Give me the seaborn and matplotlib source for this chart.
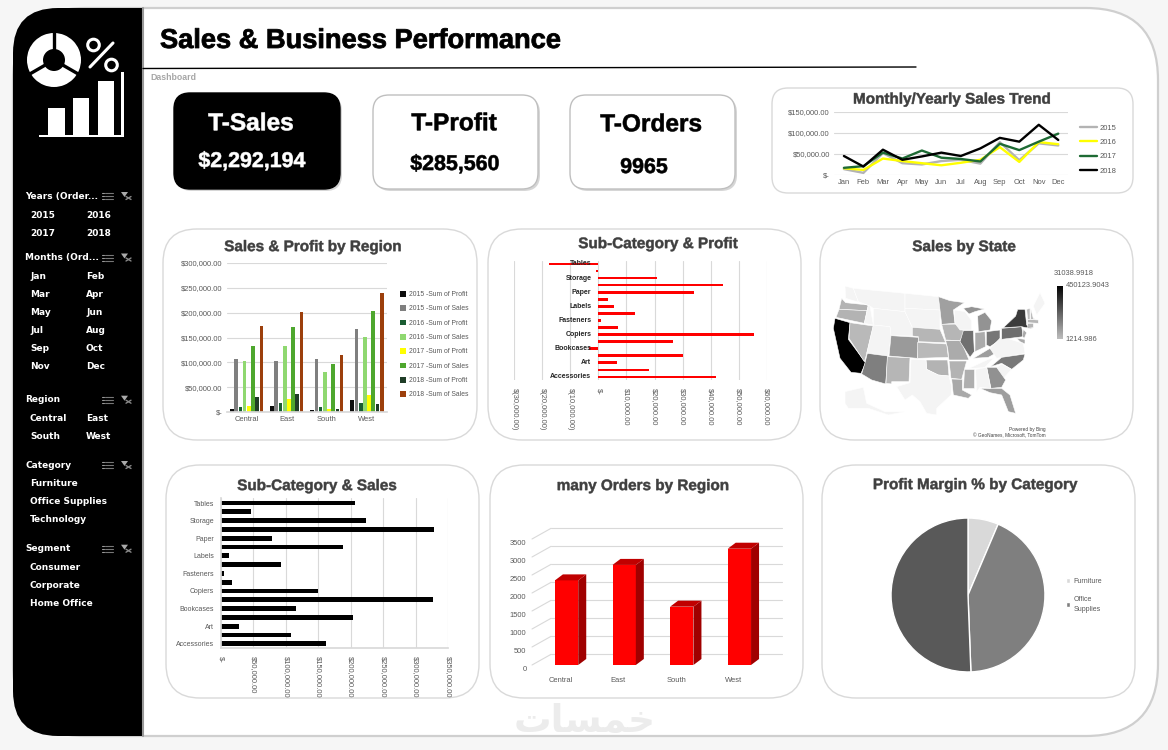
import pandas as pd
import numpy as np
import matplotlib
matplotlib.use('Agg')
import matplotlib.pyplot as plt
import matplotlib.patheffects as pe
from matplotlib.patches import FancyBboxPatch, Rectangle, Wedge, Circle, Polygon
from matplotlib.colors import LinearSegmentedColormap, Normalize
from matplotlib.lines import Line2D
from matplotlib.transforms import ScaledTranslation
import seaborn as sns

W, H = 1168, 750

# data
months = ['Jan', 'Feb', 'Mar', 'Apr', 'May', 'Jun', 'Jul', 'Aug', 'Sep', 'Oct', 'Nov', 'Dec']
trend_2015 = [14000, 5000, 52000, 28000, 25000, 33000, 36000, 27000, 78000, 35000, 75000, 70000]
trend_2016 = [16000, 12000, 39000, 33000, 28000, 23000, 29000, 36000, 66000, 31000, 78000, 73000]
trend_2017 = [17000, 21000, 53000, 39000, 58000, 41000, 38000, 32000, 74000, 59000, 79000, 98000]
trend_2018 = [45000, 20000, 60000, 36000, 44000, 53000, 45000, 63000, 88000, 79000, 119000, 83000]

regions = ['Central', 'East', 'South', 'West']
region_series = ['2015 -Sum of Profit', '2015 -Sum of Sales', '2016 -Sum of Profit', '2016 -Sum of Sales',
                 '2017 -Sum of Profit', '2017 -Sum of Sales', '2018 -Sum of Profit', '2018 -Sum of Sales']
profit_2015 = [7000, 13000, 5000, 25000]
sales_2015 = [107000, 103000, 107000, 167000]
profit_2016 = [11000, 19000, 11000, 19000]
sales_2016 = [103000, 133000, 81000, 151000]
profit_2017 = [13000, 27000, 7000, 35000]
sales_2017 = [133000, 171000, 97000, 204000]
profit_2018 = [31000, 37000, 7000, 17000]
sales_2018 = [173000, 201000, 115000, 240000]

sub_categories = ['Tables', 'Supplies', 'Storage', 'Phones', 'Paper', 'Machines', 'Labels', 'Furnishings',
                  'Fasteners', 'Envelopes', 'Copiers', 'Chairs', 'Bookcases', 'Binders', 'Art', 'Appliances',
                  'Accessories']
sub_profit = [-17500, -1000, 21000, 44500, 34000, 3400, 5500, 13000, 900, 6900, 55600, 26600, -3500, 30000, 6500,
              18000, 41900]
sub_sales = [206000, 47000, 223000, 328000, 79000, 188000, 13000, 92000, 4000, 17000, 149000, 327000, 115000,
             203000, 28000, 108000, 162000]

orders_region = [2350, 2780, 1620, 3230]

pie_labels = ['Furniture', 'Office\nSupplies', 'Technology']
pie_values = [6.4, 43.0, 50.6]

state_names = ['CA', 'NY', 'PA', 'IL', 'OH', 'AZ', 'NC', 'MI', 'GA', 'CO', 'FL', 'MN', 'KY', 'MO', 'LA', 'IN',
               'NJ', 'MD', 'MS', 'WA', 'OR', 'OK', 'AR', 'NM', 'NE', 'IA', 'MA', 'CT', 'NV', 'KS', 'VT', 'NH']
state_sales = [450123, 310000, 190000, 185000, 170000, 150000, 165000, 100000, 105000, 85000, 75000, 70000, 75000,
               45000, 50000, 45000, 50000, 50000, 35000, 25000, 25000, 25000, 25000, 20000, 20000, 20000, 20000,
               20000, 10000, 10000, 1214, 1214]

# rough state outlines, in map units of the map box
state_shapes = {
    'WA': [(50, 55), (62, 68), (130, 75), (126, 92), (42, 88)],
    'OR': [(42, 88), (126, 92), (118, 130), (33, 112)],
    'CA': [(30, 115), (75, 128), (70, 178), (122, 248), (108, 280), (78, 277), (45, 235), (35, 190), (25, 145)],
    'NV': [(75, 128), (145, 138), (125, 222), (118, 245), (72, 175)],
    'ID': [(60, 18), (85, 25), (100, 65), (135, 78), (145, 135), (118, 130), (130, 75), (62, 55)],
    'MT': [(85, 25), (240, 40), (240, 95), (145, 85), (135, 78), (100, 65)],
    'WY': [(145, 85), (240, 95), (262, 142), (262, 168), (198, 167), (195, 140), (145, 135)],
    'UT': [(145, 135), (195, 140), (198, 167), (190, 228), (125, 220)],
    'AZ': [(127, 220), (188, 228), (182, 312), (140, 300), (110, 282), (120, 248)],
    'NM': [(187, 230), (255, 233), (252, 305), (200, 305), (200, 312), (183, 310)],
    'CO': [(198, 167), (280, 172), (278, 235), (192, 228)],
    'ND': [(240, 40), (340, 50), (345, 90), (240, 85)],
    'SD': [(240, 85), (345, 90), (345, 148), (262, 142), (240, 95)],
    'NE': [(262, 142), (345, 148), (362, 188), (280, 185), (280, 170), (262, 168)],
    'KS': [(278, 187), (365, 192), (370, 232), (278, 235)],
    'OK': [(303, 240), (368, 240), (372, 288), (340, 285), (305, 268)],
    'TX': [(258, 238), (303, 240), (305, 268), (340, 285), (372, 288), (380, 320), (378, 345), (335, 385), (335, 405),
           (305, 400), (285, 365), (262, 345), (240, 360), (215, 320), (255, 308)],
    'MN': [(340, 50), (375, 62), (418, 68), (385, 90), (390, 130), (350, 133), (345, 90)],
    'IA': [(350, 133), (405, 132), (418, 160), (405, 182), (362, 180)],
    'MO': [(362, 182), (408, 182), (432, 240), (372, 240), (368, 205)],
    'AR': [(372, 243), (425, 243), (410, 298), (378, 295)],
    'LA': [(380, 297), (412, 298), (412, 330), (440, 345), (430, 355), (385, 345)],
    'MS': [(417, 268), (448, 268), (448, 325), (415, 325)],
    'WI': [(388, 90), (420, 95), (440, 122), (440, 150), (405, 150), (390, 130)],
    'IL': [(415, 152), (445, 152), (448, 215), (435, 232), (405, 185)],
    'IN': [(450, 158), (480, 155), (482, 200), (450, 215)],
    'MI': [(458, 108), (480, 97), (500, 122), (495, 150), (460, 155)],
    'MI2': [(415, 85), (440, 80), (478, 87), (450, 95), (432, 102)],
    'OH': [(484, 155), (525, 150), (525, 180), (495, 200), (484, 195)],
    'KY': [(445, 235), (495, 205), (515, 218), (490, 232)],
    'TN': [(432, 265), (490, 238), (505, 235), (480, 262), (450, 265)],
    'VA': [(495, 205), (530, 170), (595, 190), (600, 220), (515, 235)],
    'NC': [(497, 260), (530, 232), (600, 222), (595, 240), (560, 268), (530, 250)],
    'SC': [(530, 252), (560, 268), (535, 295), (515, 262)],
    'GA': [(485, 262), (515, 262), (542, 300), (530, 322), (498, 325)],
    'FL': [(465, 325), (530, 325), (555, 345), (572, 400), (550, 395), (530, 345), (495, 338)],
    'AL': [(452, 268), (485, 262), (497, 325), (465, 322), (455, 335)],
    'PA': [(530, 145), (590, 140), (595, 170), (530, 178)],
    'NY': [(535, 143), (572, 108), (578, 88), (600, 88), (605, 135), (622, 146), (598, 142), (590, 140)],
    'NJ': [(595, 148), (605, 158), (598, 175), (592, 170)],
    'MD': [(575, 175), (600, 178), (600, 192), (585, 185)],
    'MA': [(608, 118), (640, 120), (640, 130), (608, 128)],
    'CT': [(608, 130), (625, 130), (625, 143), (608, 145)],
    'VT': [(605, 88), (615, 85), (615, 118), (608, 118)],
    'NH': [(617, 85), (625, 115), (632, 118), (617, 118)],
    'ME': [(625, 78), (645, 38), (660, 70), (635, 105)],
    'AK': [(60, 335), (115, 322), (125, 370), (180, 395), (240, 395), (190, 405), (130, 385), (70, 385), (60, 370)],
}

slicers = [('Years (Order...', 196, [('2015', '2016'), ('2017', '2018')]),
           ('Months (Ord...', 257.5, [('Jan', 'Feb'), ('Mar', 'Apr'), ('May', 'Jun'), ('Jul', 'Aug'), ('Sep', 'Oct'),
                                      ('Nov', 'Dec')]),
           ('Region', 399.7, [('Central', 'East'), ('South', 'West')]),
           ('Category', 465, [('Furniture', ''), ('Office Supplies', ''), ('Technology', '')]),
           ('Segment', 548.7, [('Consumer', ''), ('Corporate', ''), ('Home Office', '')])]

sns.set_theme(style='white')
plt.rcParams['font.family'] = ['Liberation Sans', 'DejaVu Sans']

TICK = '#595959'
GRID = '#d9d9d9'
TITLE = '#3f3f3f'
TS = 5.4

fig = plt.figure(figsize=(W / 100, H / 100), dpi=100, facecolor='#f6f6f6')


def caja(x0, y0, x1, y1):
    ax = fig.add_axes([x0 / W, 1 - y1 / H, (x1 - x0) / W, (y1 - y0) / H])
    ax.patch.set_visible(False)
    return ax


def tarjeta(x0, y0, x1, y1, r, fc='white', ec='#d9d9d9', sombra=False):
    if sombra:
        fondo.add_patch(FancyBboxPatch((x0 + 2, y0 + 2), x1 - x0, y1 - y0, boxstyle=f'round,pad=0,rounding_size={r}',
                                       fc='#bbbbbb', ec='none', alpha=0.6))
    fondo.add_patch(FancyBboxPatch((x0, y0), x1 - x0, y1 - y0, boxstyle=f'round,pad=0,rounding_size={r}',
                                   fc=fc, ec=ec, lw=1))


def grueso(x, y, txt, size, color, stroke=0.4, **kw):
    # va='center' sits a bit high for the big text
    t = fondo.text(x, y + size * 0.1, txt, fontsize=size, fontweight='bold', color=color, va='center', **kw)
    t.set_path_effects([pe.Stroke(linewidth=stroke, foreground=color)])
    return t


def titulo(x, y, txt):
    grueso(x, y, txt, 11, TITLE, stroke=0.35, ha='center')


def leyenda(ax, handles, labels, x, y, size=5, **kw):
    leg = ax.legend(handles, labels, loc='upper left', bbox_to_anchor=(x / W, 1 - y / H), bbox_transform=fig.transFigure,
                    frameon=False, fontsize=size, borderpad=0, borderaxespad=0, **kw)
    for t in leg.get_texts():
        t.set_color(TICK)
    return leg


# background, sheet and sidebar
fondo = fig.add_axes([0, 0, 1, 1])
fondo.set_xlim(0, W)
fondo.set_ylim(H, 0)
fondo.axis('off')
fondo.add_patch(FancyBboxPatch((13, 8), 1145, 728, boxstyle='round,pad=0,rounding_size=72', fc='white', ec='#cfcfcf', lw=1.6))
barra = FancyBboxPatch((13, 8), 300, 728, boxstyle='round,pad=0,rounding_size=45', fc='black', ec='none')
fondo.add_patch(barra)
barra.set_clip_path(Rectangle((0, 0), 142, H, transform=fondo.transData))
fondo.plot([143, 143], [8, 736], color='#999999', lw=1.5)

# sidebar icon
fondo.add_patch(Wedge((54, 60), 27, 0, 360, width=16, fc='white', ec='none'))
for ang in (270, 30, 150):
    a = np.deg2rad(ang)
    fondo.plot([54 + 10 * np.cos(a), 54 + 28 * np.cos(a)], [60 + 10 * np.sin(a), 60 + 28 * np.sin(a)], color='black', lw=2.4)
fondo.add_patch(Circle((93.5, 45), 5.8, fc='none', ec='white', lw=2.2))
fondo.add_patch(Circle((111.5, 65), 5.8, fc='none', ec='white', lw=2.2))
fondo.plot([113, 90], [43, 67], color='white', lw=2.2)
for x0, x1, y0 in ((48, 65, 108), (73, 89, 98), (98, 114, 81)):
    fondo.add_patch(Rectangle((x0, y0), x1 - x0, 135 - y0, fc='white', ec='none'))
fondo.add_patch(Rectangle((39, 135), 85, 2.2, fc='white', ec='none'))
fondo.add_patch(Rectangle((121, 72), 2.5, 65, fc='white', ec='none'))

# slicers
for nombre, y, filas in slicers:
    fondo.text(25, y, nombre, color='white', fontsize=6.5, fontweight='bold', family='DejaVu Sans', va='center')
    for k in range(3):
        fondo.plot([105, 112.5], [y - 3 + 3 * k] * 2, color='#777777', lw=0.8)
        fondo.plot([101.5, 103.5], [y - 3 + 3 * k] * 2, color='#999999', lw=0.8)
    fondo.add_patch(Polygon([(121, y - 4), (128, y - 4), (124.5, y + 1)], fc='#aaaaaa', ec='none'))
    fondo.plot([126, 131], [y + 0.5, y + 3.5], color='#888888', lw=1)
    fondo.plot([126, 131], [y + 3.5, y + 0.5], color='#888888', lw=1)
    yy = y + 19
    for a, b in filas:
        fondo.text(30, yy, a, color='white', fontsize=6.5, fontweight='bold', family='DejaVu Sans', va='center')
        fondo.text(86, yy, b, color='white', fontsize=6.5, fontweight='bold', family='DejaVu Sans', va='center')
        yy += 18

# header
grueso(160, 39, 'Sales & Business Performance', 19.6, 'black', stroke=0.6)
fondo.plot([143, 916], [68.5, 67], color='black', lw=1)
fondo.text(150, 77, 'Dashboard', fontsize=6.3, fontweight='bold', color='#a6a6a6', va='center')

# KPI cards
tarjeta(174, 93, 340, 189, 16, fc='black', ec='black', sombra=True)
tarjeta(373, 95, 538, 189, 16, ec='#bfbfbf', sombra=True)
tarjeta(570, 95, 735, 189, 16, ec='#bfbfbf', sombra=True)
grueso(251, 122, 'T-Sales', 17.6, 'white', ha='center')
grueso(252, 160, '$2,292,194', 15.4, 'white', ha='center')
grueso(454, 122, 'T-Profit', 17.6, 'black', ha='center')
grueso(455, 163, '$285,560', 15.4, 'black', ha='center')
grueso(651, 123, 'T-Orders', 17.6, 'black', ha='center')
grueso(644, 166, '9965', 15.4, 'black', ha='center')

# chart cards
tarjeta(772, 88, 1133, 193, 16)
tarjeta(163, 229, 477, 440, 34)
tarjeta(488, 229, 801, 440, 34)
tarjeta(820, 229, 1133, 440, 34)
tarjeta(166, 465, 479, 698, 34)
tarjeta(490, 465, 803, 698, 34)
tarjeta(822, 465, 1135, 698, 34)
titulo(952, 98.5, 'Monthly/Yearly Sales Trend')
titulo(313, 246, 'Sales & Profit by Region')
titulo(658, 243, 'Sub-Category & Profit')
titulo(964, 246, 'Sales by State')
titulo(317, 485, 'Sub-Category & Sales')
titulo(643, 485, 'many Orders by Region')
titulo(975, 484, 'Profit Margin % by Category')

# watermark
fondo.text(585, 722, '\uFE95\uFE8E\uFEB4\uFEE4\uFEA7', fontsize=27, fontweight='bold', family='DejaVu Sans',
           color='#ececec', ha='center', va='center')

# monthly trend
df_trend = pd.DataFrame({'month': months * 4,
                         'year': sum([[y] * 12 for y in ['2015', '2016', '2017', '2018']], []),
                         'sales': trend_2015 + trend_2016 + trend_2017 + trend_2018})
ax = caja(834, 111.7, 1068, 175)
colores_trend = ['#b3b3b3', '#ffff00', '#1e6b34', '#000000']
sns.lineplot(data=df_trend, x='month', y='sales', hue='year', palette=colores_trend, sort=False, lw=1.7, ax=ax, legend=False)
ax.set_xlim(-0.51, 11.5)
ax.set_ylim(0, 150000)
ax.set_yticks([0, 50000, 100000, 150000], ['$-', '$50,000.00', '$100,000.00', '$150,000.00'])
ax.tick_params(labelsize=TS, labelcolor=TICK, pad=3, length=0)
ax.grid(axis='y', color=GRID, lw=0.8)
ax.set_axisbelow(True)
ax.set(xlabel='', ylabel='')
sns.despine(ax=ax, left=True, bottom=True)
lineas = [Line2D([], [], color=c, lw=1.7) for c in colores_trend]
leyenda(ax, lineas, ['2015', '2016', '2017', '2018'], 1080, 124.5, size=5.5, labelspacing=0.9, handlelength=2.2, handletextpad=0.3)

# sales and profit by region
df_region = pd.DataFrame({'region': regions * 8,
                          'serie': sum([[s] * 4 for s in region_series], []),
                          'valor': profit_2015 + sales_2015 + profit_2016 + sales_2016 + profit_2017 + sales_2017
                          + profit_2018 + sales_2018})
ax = caja(226.7, 263, 387, 412)
colores_region = ['#0d0d0d', '#7f7f7f', '#1a5c32', '#8fd870', '#ffff00', '#4ea72e', '#1f3d27', '#9c3f0c']
sns.barplot(data=df_region, x='region', y='valor', hue='serie', hue_order=region_series, palette=colores_region,
            width=0.84, gap=0.12, saturation=1, linewidth=0, ax=ax)
ax.set_xlim(-0.5, 3.5)
ax.set_ylim(0, 300000)
ax.set_yticks(np.arange(0, 300001, 50000), ['$-', '$50,000.00', '$100,000.00', '$150,000.00', '$200,000.00',
                                           '$250,000.00', '$300,000.00'])
ax.tick_params(labelsize=TS, labelcolor=TICK, pad=3, length=0)
ax.grid(axis='y', color=GRID, lw=0.8)
ax.set_axisbelow(True)
ax.set(xlabel='', ylabel='')
sns.despine(ax=ax, left=True)
ax.spines['bottom'].set_color(GRID)
h, l = ax.get_legend_handles_labels()
leyenda(ax, h, l, 400, 291, size=4.9, labelspacing=1.05, handlelength=0.9, handleheight=0.9, handletextpad=0.35)

# sub-category profit
ax = caja(514.3, 261, 766.7, 380)
df_sub = pd.DataFrame({'sub': sub_categories, 'profit': sub_profit, 'sales': sub_sales})
sns.barplot(data=df_sub, y='sub', x='profit', order=sub_categories, color='#ff0000', width=0.38, saturation=1, linewidth=0, ax=ax)
ax.set_xlim(-30000, 60000)
ax.set_ylim(16.43, -0.42)
ax.set_xticks(np.arange(-30000, 60001, 10000), ['$(30,000.00)', '$(20,000.00)', '$(10,000.00)', '$-', '$10,000.00',
                                               '$20,000.00', '$30,000.00', '$40,000.00', '$50,000.00', '$60,000.00'])
ax.set_yticks([])
ax.tick_params(axis='x', labelsize=TS, labelcolor=TICK, labelrotation=270, pad=6, length=0)
ax.grid(axis='x', color=GRID, lw=0.8)
ax.set_axisbelow(True)
ax.set(xlabel='', ylabel='')
sns.despine(ax=ax, left=True, bottom=True)
for i in range(0, len(sub_categories), 2):
    ax.text(-2500, i, sub_categories[i], ha='right', va='center', fontsize=5, fontweight='bold', color='#262626')

# sub-category sales
ax = caja(221, 498, 448, 648)
sns.barplot(data=df_sub, y='sub', x='sales', order=sub_categories, color='black', width=0.56, saturation=1, linewidth=0, ax=ax)
ax.set_xlim(0, 350000)
ax.set_ylim(16.48, -0.57)
ax.set_xticks(np.arange(0, 350001, 50000), ['$-', '$50,000.00', '$100,000.00', '$150,000.00', '$200,000.00',
                                           '$250,000.00', '$300,000.00', '$350,000.00'])
ax.set_yticks(range(0, len(sub_categories), 2), sub_categories[::2])
ax.tick_params(axis='x', labelsize=TS, labelcolor=TICK, labelrotation=270, pad=6, length=0)
ax.tick_params(axis='y', labelsize=5, labelcolor=TICK, pad=5, length=0)
ax.grid(axis='x', color=GRID, lw=0.8)
ax.set_axisbelow(True)
ax.set(xlabel='', ylabel='')
sns.despine(ax=ax)
ax.spines['left'].set_color(GRID)
ax.spines['bottom'].set_color(GRID)

# orders by region, faked 3D on top of a plain bar plot
ax = caja(532, 539, 782, 665)
sns.barplot(x=regions, y=orders_region, color='#ff0000', width=0.405, saturation=1, linewidth=0, ax=ax, zorder=3)
ax.set_xlim(-0.6, 3.74)
ax.set_ylim(0, 3500)
ticks_orden = np.arange(0, 3501, 500)
ax.set_yticks(ticks_orden)
ax.set_xticks(np.arange(4) - 0.1, regions)
ax.tick_params(labelsize=TS, labelcolor=TICK, length=0)
ax.tick_params(axis='y', pad=4)
ax.tick_params(axis='x', pad=9)
for lab in ax.get_yticklabels():
    lab.set_transform(lab.get_transform() + ScaledTranslation(0, -3.5 / 100, fig.dpi_scale_trans))
prof_x, prof_y = 0.33, 296
for t in ticks_orden:
    ax.plot([-0.6, -0.6 + prof_x], [t, t + prof_y], color=GRID, lw=0.8, clip_on=False, zorder=1)
    ax.plot([-0.6 + prof_x, 3.74], [t + prof_y, t + prof_y], color=GRID, lw=0.8, clip_on=False, zorder=1)
dx, dy = 0.139, 167
for b in list(ax.patches):
    x0, x1, y1 = b.get_x(), b.get_x() + b.get_width(), b.get_height()
    ax.add_patch(Polygon([(x1, 0), (x1 + dx, dy), (x1 + dx, y1 + dy), (x1, y1)], fc='#a00000', ec='none', zorder=3, clip_on=False))
    ax.add_patch(Polygon([(x0, y1), (x1, y1), (x1 + dx, y1 + dy), (x0 + dx, y1 + dy)], fc='#c00000', ec='none', zorder=3, clip_on=False))
sns.despine(ax=ax, left=True, bottom=True)

# sales by state
ax = caja(825, 280, 1065, 430)
ax.set_xlim(0, 720)
ax.set_ylim(450, 0)
ax.axis('off')
escala = LinearSegmentedColormap.from_list('gris', ['#bdbdbd', '#000000'])
norma = Normalize(vmin=min(state_sales), vmax=max(state_sales))
ventas = dict(zip(state_names, state_sales))
for st, forma in state_shapes.items():
    clave = st.replace('2', '')
    color = escala(norma(ventas[clave])) if clave in ventas else '#f4f4f4'
    ax.add_patch(Polygon(forma, fc=color, ec='white', lw=0.4))
ax_cb = caja(1056.7, 285.7, 1062, 339)
ax_cb.imshow(np.linspace(1, 0, 64).reshape(-1, 1), cmap=escala, aspect='auto')
ax_cb.axis('off')
fondo.text(1054, 273.5, '31038.9918', fontsize=TS, color=TICK, va='center')
fondo.text(1065.7, 285.5, '450123.9043', fontsize=TS, color=TICK, va='center')
fondo.text(1065.7, 339.5, '1214.986', fontsize=TS, color=TICK, va='center')
fondo.text(1046, 429, 'Powered by Bing', fontsize=3.4, color='#404040', ha='right', va='center')
fondo.text(1046, 435.5, '\u00a9 GeoNames, Microsoft, TomTom', fontsize=3.4, color='#404040', ha='right', va='center')

# profit margin pie
ax = caja(889.5, 516.5, 1046.5, 673.5)
cunas, _ = ax.pie(pie_values, colors=['#d9d9d9', '#7f7f7f', '#595959'], startangle=90, counterclock=False,
                  wedgeprops={'edgecolor': 'white', 'linewidth': 1})
ax.set_xlim(-1.02, 1.02)
ax.set_ylim(-1.02, 1.02)
leg = leyenda(ax, cunas[:2], pie_labels[:2], 1066, 578, size=5, labelspacing=1.6, handlelength=0.6, handleheight=0.6, handletextpad=0.5)
for t in leg.get_texts():
    t.set_linespacing(1.6)

fig.savefig('out.png', dpi=100, facecolor=fig.get_facecolor())
